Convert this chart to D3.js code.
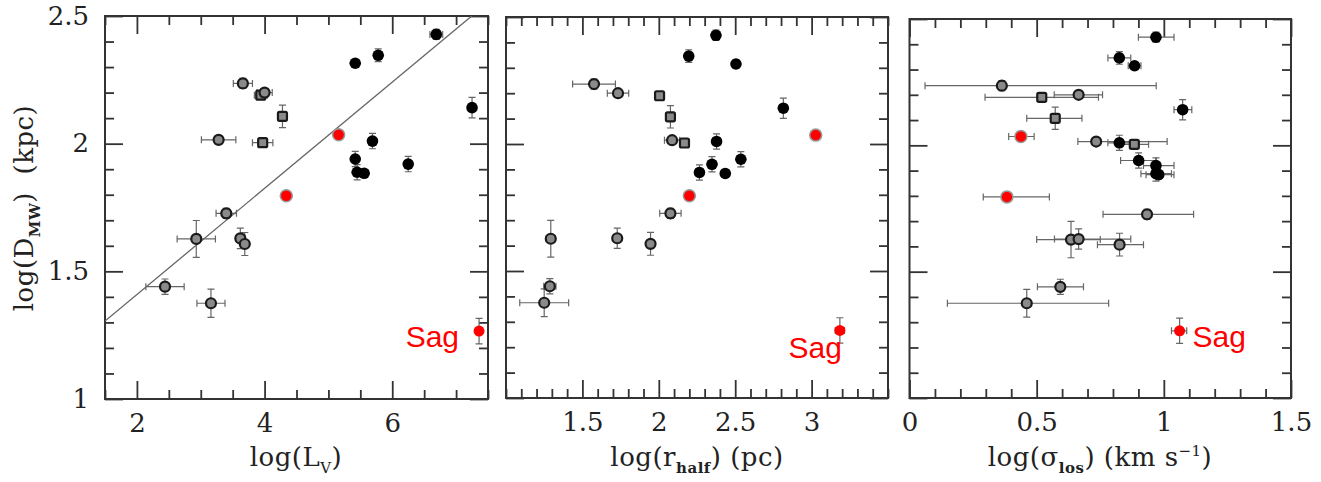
<!DOCTYPE html>
<html>
<head>
<meta charset="utf-8">
<script src="https://cdn.jsdelivr.net/npm/d3@7"></script>
<style>
  body { margin: 0; background: #fff; }
  svg text { font-family: "DejaVu Serif", serif; fill: #222; }
</style>
</head>
<body>
<svg id="chart" width="1321" height="482"></svg>
<script>
// marker kind per galaxy: open circle, open square, filled black, red
const kind = ["o","s","o","s","o","s","o","o","o","o","o","o",
              "f","f","f","f","f","f","f","f","f",
              "r","r","sag"];

const logD    = [2.236, 2.19, 2.20, 2.107, 2.015, 2.004, 1.727, 1.627, 1.629, 1.607, 1.44, 1.375,
                 2.428, 2.346, 2.315, 2.141, 2.01, 1.94, 1.92, 1.888, 1.884,
                 2.035, 1.796, 1.266];
const logDErr = [0.02, 0.015, 0.015, 0.044, 0.01, 0.015, 0.02, 0.072, 0.04, 0.045, 0.03, 0.055,
                 0.02, 0.025, 0.015, 0.04, 0.03, 0.03, 0.03, 0.03, 0.01,
                 0.01, 0.01, 0.05];

const logLv    = [3.66, 3.94, 4.00, 4.28, 3.28, 3.97, 3.40, 2.93, 3.62, 3.69, 2.44, 3.16,
                  6.69, 5.78, 5.42, 7.25, 5.69, 5.42, 6.25, 5.45, 5.56,
                  5.16, 4.34, 7.36];
const logLvErr = [0.15, 0.1, 0.12, 0.04, 0.27, 0.16, 0.16, 0.3, 0.06, 0.06, 0.3, 0.22,
                  0.1, 0.06, 0.05, 0.05, 0.05, 0.05, 0.05, 0.05, 0.05,
                  0.05, 0.06, 0.05];

const logRhalf    = [1.576, 2.005, 1.733, 2.076, 2.087, 2.168, 2.076, 1.293, 1.728, 1.946, 1.287, 1.25,
                     2.374, 2.196, 2.505, 2.815, 2.378, 2.537, 2.348, 2.266, 2.435,
                     3.027, 2.20, 3.185];
const logRhalfErr = [0.14, 0.03, 0.07, 0.03, 0.05, 0.02, 0.07, 0.03, 0.02, 0.02, 0.04, 0.16,
                     0.01, 0.01, 0.01, 0.01, 0.01, 0.01, 0.01, 0.01, 0.01,
                     0.02, 0.02, 0.03];

const logSigma   = [0.363, 0.52, 0.665, 0.573, 0.734, 0.884, 0.934, 0.635, 0.665, 0.826, 0.593, 0.461,
                    0.969, 0.825, 0.885, 1.074, 0.825, 0.901, 0.969, 0.969, 0.98,
                    0.438, 0.383, 1.062];
const logSigmaLo = [0.061, 0.297, 0.569, 0.461, 0.662, 0.835, 0.761, 0.50, 0.57, 0.739, 0.503, 0.149,
                    0.90, 0.78, 0.86, 1.04, 0.78, 0.83, 0.92, 0.91, 0.93,
                    0.39, 0.29, 1.03];
const logSigmaHi = [0.97, 0.743, 0.759, 0.678, 1.013, 0.94, 1.117, 0.75, 0.87, 0.92, 0.684, 0.783,
                    1.04, 0.87, 0.91, 1.11, 0.87, 0.97, 1.04, 1.03, 1.04,
                    0.49, 0.55, 1.09];

// fit in the first panel: logD = a + b * logLv
const fitCoef = [0.993, 0.208];

const yTicks    = [1, 1.5, 2, 2.5];
const xTicksLv  = [2, 4, 6];
const xTicksRh  = [1.5, 2, 2.5, 3];
const xTicksSig = [0, 0.5, 1, 1.5];

const svg = d3.select("#chart");

const panels = [
  { left: 105, right: 488, top: 16, bottom: 399, xDomain: [1.5, 7.5], xTicks: xTicksLv, xMinor: 0.5,
    x: logLv, xlo: logLv.map((v, i) => v - logLvErr[i]), xhi: logLv.map((v, i) => v + logLvErr[i]),
    yLabels: true, sag: { dx: -20, dy: 16, anchor: "end" } },
  { left: 506, right: 888, top: 17, bottom: 398, xDomain: [1, 3.5], xTicks: xTicksRh, xMinor: 0.1,
    x: logRhalf, xlo: logRhalf.map((v, i) => v - logRhalfErr[i]), xhi: logRhalf.map((v, i) => v + logRhalfErr[i]),
    yLabels: false, sag: { dx: 2, dy: 28, anchor: "end" } },
  { left: 909.5, right: 1291, top: 19, bottom: 398, xDomain: [0, 1.5], xTicks: xTicksSig, xMinor: 0.1,
    x: logSigma, xlo: logSigmaLo, xhi: logSigmaHi,
    yLabels: false, sag: { dx: 13, dy: 16, anchor: "start" } }
];

const frameColor = "#333";
const barColor = "#666";

panels.forEach(function(p, pi) {
  const x = d3.scaleLinear().domain(p.xDomain).range([p.left, p.right]);
  const y = d3.scaleLinear().domain([1, 2.5]).range([p.bottom, p.top]);
  const g = svg.append("g");

  const minorX = d3.range(p.xDomain[0], p.xDomain[1] + 1e-9, p.xMinor).filter(v => !p.xTicks.some(t => Math.abs(t - v) < 1e-6));
  const minorY = d3.range(1, 2.5 + 1e-9, 0.1).filter(v => !yTicks.some(t => Math.abs(t - v) < 1e-6));

  function addAxis(axisFn, scale, translate, major, minor, labels, pad) {
    g.append("g").attr("transform", translate)
      .call(axisFn(scale).tickValues(minor).tickSize(-9).tickFormat(""))
      .call(a => a.select(".domain").remove());
    const ax = g.append("g").attr("transform", translate)
      .call(axisFn(scale).tickValues(major).tickSize(-18).tickPadding(pad)
        .tickFormat(labels ? (d => String(d)) : ""))
      .call(a => a.select(".domain").remove());
    ax.selectAll("text").attr("fill", "#222").style("font-size", "26px")
      .style("font-family", "'DejaVu Serif', serif");
  }
  addAxis(d3.axisBottom, x, `translate(0,${p.bottom})`, p.xTicks, minorX, true, 15);
  addAxis(d3.axisTop, x, `translate(0,${p.top})`, p.xTicks, minorX, false, 0);
  addAxis(d3.axisLeft, y, `translate(${p.left},0)`, yTicks, minorY, p.yLabels, 16);
  addAxis(d3.axisRight, y, `translate(${p.right},0)`, yTicks, minorY, false, 0);
  g.selectAll(".tick line").attr("stroke", frameColor).attr("stroke-width", 1.8);

  g.append("rect")
    .attr("x", p.left).attr("y", p.top)
    .attr("width", p.right - p.left).attr("height", p.bottom - p.top)
    .attr("fill", "none").attr("stroke", frameColor).attr("stroke-width", 2);

  const clipId = "clip" + pi;
  svg.append("clipPath").attr("id", clipId).append("rect")
    .attr("x", p.left).attr("y", p.top)
    .attr("width", p.right - p.left).attr("height", p.bottom - p.top);

  if (pi === 0) {
    g.append("line")
      .attr("clip-path", `url(#${clipId})`)
      .attr("x1", x(p.xDomain[0])).attr("y1", y(fitCoef[0] + fitCoef[1] * p.xDomain[0]))
      .attr("x2", x(p.xDomain[1])).attr("y2", y(fitCoef[0] + fitCoef[1] * p.xDomain[1]))
      .attr("stroke", "#666").attr("stroke-width", 1.3);
  }

  const idx = d3.range(logD.length);
  const cap = 3.5;
  const bars = g.append("g").attr("stroke", barColor).attr("stroke-width", 1.2).attr("fill", "none");
  idx.forEach(function(i) {
    const cx = x(p.x[i]), cy = y(logD[i]);
    const x0 = x(p.xlo[i]), x1 = x(p.xhi[i]);
    const y0 = y(logD[i] - logDErr[i]), y1 = y(logD[i] + logDErr[i]);
    bars.append("path").attr("d",
      `M${x0},${cy}H${x1}M${x0},${cy - cap}V${cy + cap}M${x1},${cy - cap}V${cy + cap}` +
      `M${cx},${y0}V${y1}M${cx - cap},${y0}H${cx + cap}M${cx - cap},${y1}H${cx + cap}`);
  });

  const marks = g.append("g");
  idx.forEach(function(i) {
    const cx = x(p.x[i]), cy = y(logD[i]);
    const k = kind[i];
    if (k === "s") {
      marks.append("rect").attr("x", cx - 4.5).attr("y", cy - 4.5).attr("width", 9).attr("height", 9)
        .attr("rx", 1.5).attr("fill", "#8a8a8a").attr("stroke", "#1a1a1a").attr("stroke-width", 2.2);
    } else if (k === "o") {
      marks.append("circle").attr("cx", cx).attr("cy", cy).attr("r", 5)
        .attr("fill", "#8a8a8a").attr("stroke", "#1a1a1a").attr("stroke-width", 2.2);
    } else if (k === "f") {
      marks.append("circle").attr("cx", cx).attr("cy", cy).attr("r", 5.8).attr("fill", "#000");
    } else if (k === "r") {
      marks.append("circle").attr("cx", cx).attr("cy", cy).attr("r", 6)
        .attr("fill", "#f00").attr("stroke", "#999").attr("stroke-width", 1.5);
    } else {
      marks.append("circle").attr("cx", cx).attr("cy", cy).attr("r", 5.5).attr("fill", "#f00");
    }
  });

  const s = logD.length - 1;
  g.append("text")
    .attr("x", x(p.x[s]) + p.sag.dx).attr("y", y(logD[s]) + p.sag.dy)
    .attr("text-anchor", p.sag.anchor)
    .style("font-family", "'Liberation Sans', Arial, sans-serif")
    .style("font-size", "30px").style("fill", "#f00")
    .text("Sag");
});

// axis titles
function title(parts, xPos, yPos, rotate) {
  const t = svg.append("text")
    .attr("text-anchor", "middle")
    .style("font-size", "26px")
    .style("letter-spacing", "0.5px")
    .attr("transform", `translate(${xPos},${yPos})` + (rotate ? " rotate(-90)" : ""));
  let shift = 0;
  parts.forEach(function(part) {
    const ts = t.append("tspan").text(part.t);
    const target = part.sub ? 7 : part.sup ? -10 : 0;
    if (target !== shift) { ts.attr("dy", target - shift); shift = target; }
    if (part.sub || part.sup) ts.style("font-size", "15px");
    if (part.bold) ts.style("font-weight", "bold");
  });
}

title([{ t: "log(L" }, { t: "V", sub: true }, { t: ")" }], 296, 466, false);
title([{ t: "log(r" }, { t: "half", sub: true, bold: true }, { t: ") (pc)" }], 697, 466, false);
title([{ t: "log(σ" }, { t: "los", sub: true, bold: true }, { t: ") (km s" }, { t: "−1", sup: true }, { t: ")" }], 1100, 466, false);
title([{ t: "log(D" }, { t: "MW", sub: true, bold: true }, { t: ")\u00a0\u00a0(kpc)" }], 33, 208, true);
</script>
</body>
</html>
